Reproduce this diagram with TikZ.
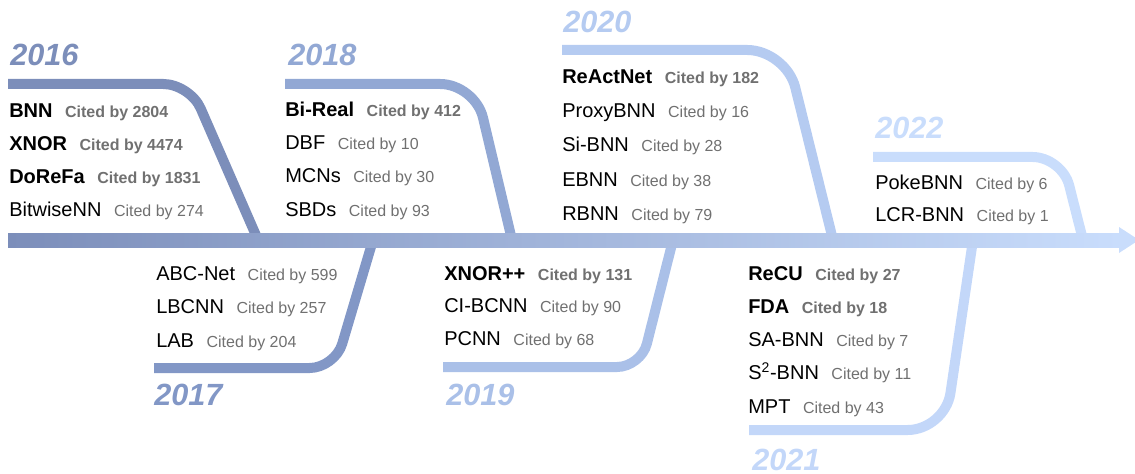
\documentclass[tikz,border=0pt]{standalone}
\usepackage{fontspec}
\setmainfont{Liberation Sans}
\usepackage{xcolor}
\usepackage{tikz}
\usetikzlibrary{positioning}
\usetikzlibrary{calc}

\definecolor{c2016}{RGB}{124,142,186}
\definecolor{c2017}{RGB}{130,151,198}
\definecolor{c2018}{RGB}{146,168,212}
\definecolor{c2019}{RGB}{170,192,232}
\definecolor{c2020}{RGB}{181,203,241}
\definecolor{c2021}{RGB}{195,215,249}
\definecolor{c2022}{RGB}{201,221,252}
\definecolor{citegray}{RGB}{112,112,112}

\tikzset{yr/.style={inner sep=0pt,anchor=west,font=\fontsize{23}{26}\selectfont\bfseries\itshape},
  nmr/.style={inner sep=0pt,anchor=base west,font=\fontsize{15}{18}\selectfont},
  nmb/.style={nmr,font=\fontsize{15}{18}\selectfont\bfseries},
  ctr/.style={inner sep=0pt,text=citegray,font=\fontsize{12}{14}\selectfont},
  ctb/.style={ctr,font=\fontsize{12}{14}\selectfont\bfseries},
  branch/.style={line width=7.5pt,line cap=butt}}

\begin{document}
\begin{tikzpicture}[x=0.75pt,y=-0.75pt]
  \useasboundingbox (0,0) rectangle (1135,474);

	\def\ay{240};

	% branches
	\foreach \yr/\sx/\sy/\cx/\ex/\rc in {2016/8/84/190/258/20pt, 2017/154/368/335/373/19pt,
	  2018/285/84/475/512/26pt, 2019/443/367/641/673/18pt, 2020/562/50/786/833/29pt,
	  2021/749/430/945/973/28pt, 2022/873/157/1062/1083/22pt} {
		\coordinate (s\yr) at (\sx,\sy);
		\coordinate (k\yr) at (\cx,\sy);
		\coordinate (e\yr) at (\ex,\ay);
		\draw[branch, draw=c\yr, rounded corners=\rc] (s\yr) -- (k\yr) -- (e\yr);
	}

	% time axis
	\coordinate (a0) at (8,\ay);
	\coordinate (a1) at (1119,\ay);
	\coordinate (tip) at (1139,\ay);
	\shade[left color=c2016, right color=c2022] ($(a0)+(0,-7)$) rectangle ($(a1)+(0,7)$);
	\fill[c2022] ($(a1)+(0,-13)$) -- (tip) -- ($(a1)+(0,13)$) -- cycle;

	% years
	\foreach \yr/\x/\y in {2016/10/55, 2017/154/395, 2018/288/55, 2019/446/395,
	  2020/563/22, 2021/752/460, 2022/875/128} {
		\node[yr, text=c\yr] (y\yr) at (\x,\y) {\yr};
	}

	% papers
	\foreach \n/\c/\f [count=\i from 0] in {BNN/2804/b, XNOR/4474/b, DoReFa/1831/b, BitwiseNN/274/r} {
		\node[nm\f] (p16n\i) at (9,118+33*\i) {\n};
		\node[ct\f, base right=9pt of p16n\i] (p16c\i) {Cited by \c};
	}
	\foreach \n/\c/\f [count=\i from 0] in {ABC-Net/599/r, LBCNN/257/r, LAB/204/r} {
		\node[nm\f] (p17n\i) at (156,280+33.5*\i) {\n};
		\node[ct\f, base right=9pt of p17n\i] (p17c\i) {Cited by \c};
	}
	\foreach \n/\c/\f [count=\i from 0] in {Bi-Real/412/b, DBF/10/r, MCNs/30/r, SBDs/93/r} {
		\node[nm\f] (p18n\i) at (285,117+33*\i) {\n};
		\node[ct\f, base right=9pt of p18n\i] (p18c\i) {Cited by \c};
	}
	\foreach \n/\c/\f [count=\i from 0] in {XNOR++/131/b, CI-BCNN/90/r, PCNN/68/r} {
		\node[nm\f] (p19n\i) at (444,280+32.5*\i) {\n};
		\node[ct\f, base right=9pt of p19n\i] (p19c\i) {Cited by \c};
	}
	\foreach \n/\c/\f [count=\i from 0] in {ReActNet/182/b, ProxyBNN/16/r, Si-BNN/28/r, EBNN/38/r, RBNN/79/r} {
		\node[nm\f] (p20n\i) at (562,84+34*\i) {\n};
		\node[ct\f, base right=9pt of p20n\i] (p20c\i) {Cited by \c};
	}
	\foreach \n/\c/\f [count=\i from 0] in {ReCU/27/b, FDA/18/b, SA-BNN/7/r, {S\textsuperscript{2}-BNN}/11/r, MPT/43/r} {
		\node[nm\f] (p21n\i) at (748,280+33.3*\i) {\n};
		\node[ct\f, base right=9pt of p21n\i] (p21c\i) {Cited by \c};
	}
	\foreach \n/\c/\f [count=\i from 0] in {PokeBNN/6/r, LCR-BNN/1/r} {
		\node[nm\f] (p22n\i) at (875,190+32*\i) {\n};
		\node[ct\f, base right=9pt of p22n\i] (p22c\i) {Cited by \c};
	}

\end{tikzpicture}
\end{document}
